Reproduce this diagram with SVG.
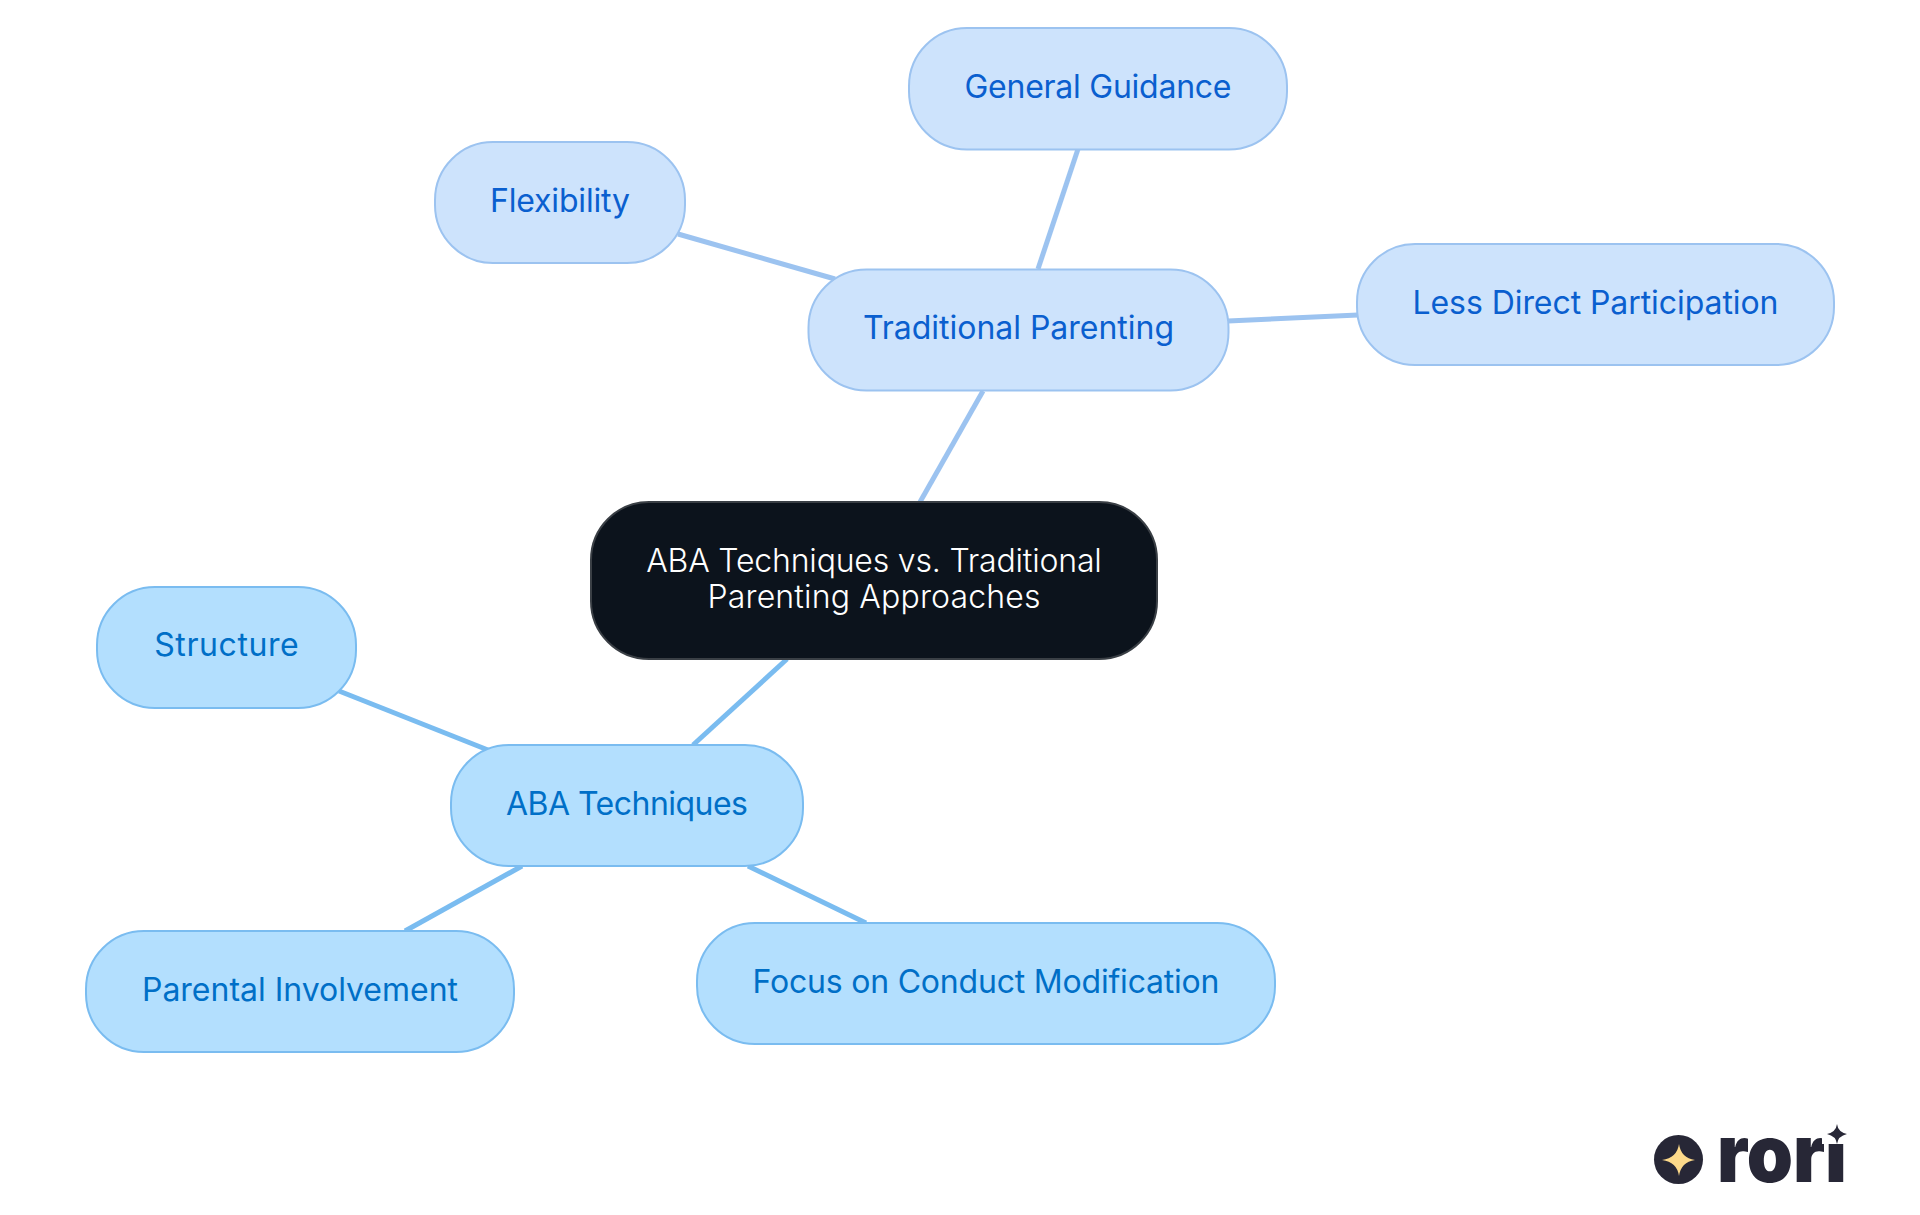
<svg xmlns="http://www.w3.org/2000/svg" width="1920" height="1215" viewBox="0 0 1920 1215">
<style>
text{font-family:"Inter","Noto Sans","Liberation Sans",sans-serif;font-size:32px;text-anchor:middle;font-weight:370}
.t rect{fill:#cde3fc;stroke:#9cc3f0;stroke-width:2}
.t text{fill:#0a5fcf}
.a rect{fill:#b3dffe;stroke:#7abcf0;stroke-width:2}
.a text{fill:#006fc7}
.r rect{fill:#0c131c;stroke:#3a3f45;stroke-width:2}
.r text{fill:#fff;font-weight:300}
.lt{stroke:#9cc3f0;stroke-width:5;fill:none}
.la{stroke:#7abcf0;stroke-width:5;fill:none}
.logo{fill:#272736}
</style>
<rect width="1920" height="1215" fill="#fff"/>
<g id="connectors">
<line class="lt" x1="983" y1="391" x2="920" y2="502"/>
<line class="la" x1="787" y1="659" x2="693" y2="745"/>
<line class="lt" x1="1078" y1="149" x2="1038" y2="269"/>
<line class="lt" x1="678" y1="234" x2="835" y2="279"/>
<line class="lt" x1="1228" y1="321" x2="1358" y2="315"/>
<line class="la" x1="339" y1="691" x2="488" y2="750"/>
<line class="la" x1="522" y1="866" x2="405" y2="931"/>
<line class="la" x1="748" y1="866" x2="866" y2="923"/>
</g>
<g id="node-general" class="t"><rect x="909" y="28" width="378" height="121.500" rx="58"/><text x="1098" y="97.500" textLength="267">General Guidance</text></g>
<g id="node-flexibility" class="t"><rect x="435" y="142" width="250" height="121" rx="58"/><text x="560" y="212" textLength="140">Flexibility</text></g>
<g id="node-traditional" class="t"><rect x="808.500" y="269.500" width="420" height="121" rx="58"/><text x="1018.500" y="338.500" textLength="311">Traditional Parenting</text></g>
<g id="node-less" class="t"><rect x="1357" y="244" width="477" height="121" rx="58"/><text x="1595.500" y="314" textLength="366">Less Direct Participation</text></g>
<g id="node-root" class="r"><rect x="591" y="502" width="566" height="157" rx="58"/><text x="874" y="572" textLength="455.500">ABA Techniques vs. Traditional</text><text x="874" y="608" textLength="333">Parenting Approaches</text></g>
<g id="node-aba" class="a"><rect x="451" y="745" width="352" height="121" rx="58"/><text x="627" y="815" textLength="242">ABA Techniques</text></g>
<g id="node-structure" class="a"><rect x="97" y="587" width="259" height="121" rx="58"/><text x="226.500" y="656" textLength="144.500">Structure</text></g>
<g id="node-parental" class="a"><rect x="86" y="931" width="428" height="121" rx="58"/><text x="300" y="1001" textLength="316">Parental Involvement</text></g>
<g id="node-focus" class="a"><rect x="697" y="923" width="578" height="121" rx="58"/><text x="986" y="993" textLength="467">Focus on Conduct Modification</text></g>
<g id="logo">
<circle class="logo" cx="1678.500" cy="1159.500" r="24.500"/>
<path d="M1679 1144Q1681 1158 1695 1160Q1681 1162 1679 1176Q1677 1162 1662 1160Q1677 1158 1679 1144Z" fill="#fcd98a"/>
<text class="logo" x="1782" y="1182" style="font-size:80px;font-weight:900" textLength="130" lengthAdjust="spacingAndGlyphs">rori</text>
<rect x="1822" y="1105" width="30" height="39" fill="#fff"/>
<path class="logo" d="M1837 1124Q1838 1132 1847 1134Q1838 1136 1837 1144Q1836 1136 1827 1134Q1836 1132 1837 1124Z"/>
</g>
</svg>
